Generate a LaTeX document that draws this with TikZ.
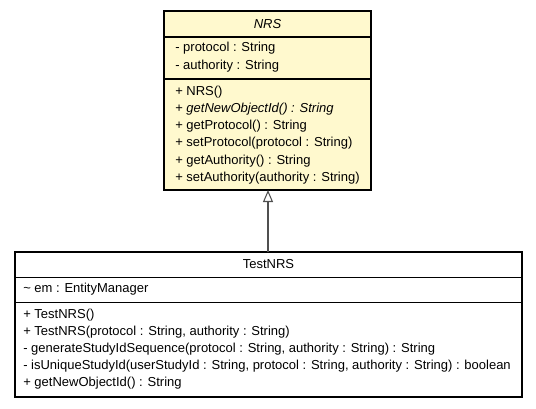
\documentclass[tikz,border=0pt]{standalone}
\usepackage{fontspec}
\setmainfont{Liberation Sans}
\usepackage{tikz}
\usetikzlibrary{arrows.meta,positioning}

\definecolor{classfill}{RGB}{255,249,206}
\definecolor{edgegray}{RGB}{80,80,80}

\tikzset{
    member/.style={anchor=west, inner sep=0pt, font=\fontsize{9.75}{11}\selectfont},
    title/.style={inner sep=0pt, font=\fontsize{9.75}{11}\selectfont},
    classbox/.style={draw=black, thick},
    extends/.style={draw=edgegray, thick, -{Triangle[open, width=7.5pt, length=9pt]}}
}

\begin{document}
\begin{tikzpicture}[x=0.75pt, y=-0.75pt]
    \useasboundingbox (0,0) rectangle (536,408);

    % NRS
    \draw[classbox, fill=classfill] (164,11) rectangle (371,190);
    \draw[thick] (164,37) -- (371,37);
    \draw[thick] (164,79) -- (371,79);
    \node[title] (nrs) at (267.5,24) {\itshape NRS};
    \node[member] (nrsa1) at (175,48) {- protocol : String};
    \node[member] (nrsa2) at (175,66) {- authority : String};
    \node[member] (nrsm1) at (175,92) {+ NRS()};
    \node[member] (nrsm2) at (175,109) {+ \itshape getNewObjectId() : String};
    \node[member] (nrsm3) at (175,126) {+ getProtocol() : String};
    \node[member] (nrsm4) at (175,143) {+ setProtocol(protocol : String)};
    \node[member] (nrsm5) at (175,161) {+ getAuthority() : String};
    \node[member] (nrsm6) at (175,178) {+ setAuthority(authority : String)};
    \coordinate (nrsbot) at (268,190);

    % TestNRS
    \draw[classbox, fill=white] (15,252) rectangle (522,397);
    \draw (15,277) -- (522,277);
    \draw (15,302) -- (522,302);
    \node[title] (test) at (268.5,264) {TestNRS};
    \node[member] (testa1) at (23,289) {\textasciitilde{} em : EntityManager};
    \node[member] (testm1) at (23,315) {+ TestNRS()};
    \node[member] (testm2) at (23,332) {+ TestNRS(protocol : String, authority : String)};
    \node[member] (testm3) at (23,349) {- generateStudyIdSequence(protocol : String, authority : String) : String};
    \node[member] (testm4) at (23,366) {- isUniqueStudyId(userStudyId : String, protocol : String, authority : String) : boolean};
    \node[member] (testm5) at (23,383) {+ getNewObjectId() : String};
    \coordinate (testtop) at (268,252);

    % Generalization
    \draw[extends] (testtop) -- (nrsbot);
\end{tikzpicture}
\end{document}
